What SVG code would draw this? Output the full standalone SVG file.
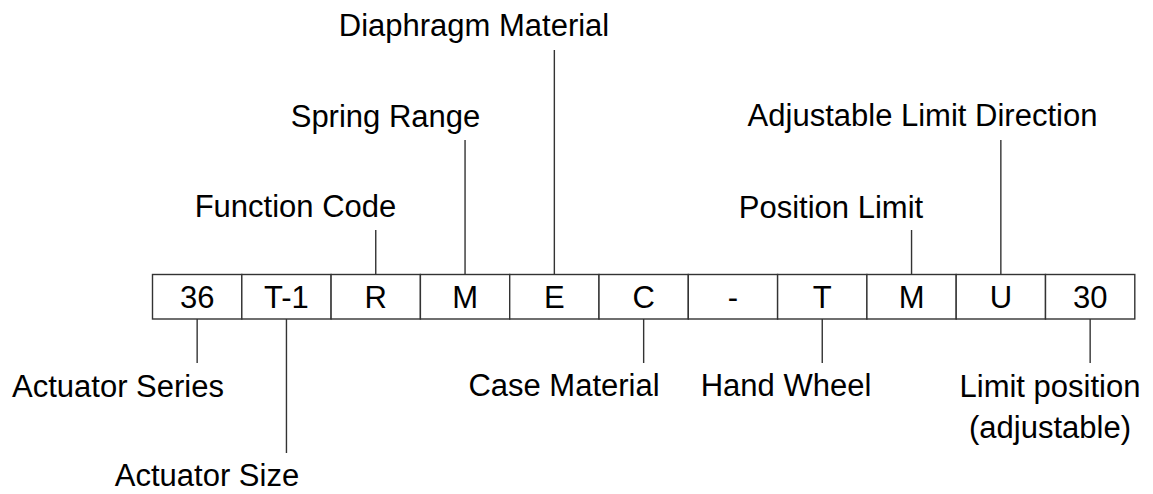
<svg xmlns="http://www.w3.org/2000/svg" width="1153" height="494" viewBox="0 0 1153 494">
<style>
.cell{fill:#fff;stroke:#333;stroke-width:1.4}
.lbl{font-family:"Liberation Sans",Arial,sans-serif;font-size:31px;fill:#000;text-anchor:middle}
.conn line{stroke:#333;stroke-width:1.4}
</style>
<rect width="1153" height="494" fill="#fff"/>
<g id="code">
<g id="c0"><rect class="cell" x="152.5" y="274.5" width="89.3" height="44.5"/><text class="lbl" x="197.15" y="308">36</text></g>
<g id="c1"><rect class="cell" x="241.8" y="274.5" width="89.3" height="44.5"/><text class="lbl" x="286.45" y="308">T-1</text></g>
<g id="c2"><rect class="cell" x="331.1" y="274.5" width="89.3" height="44.5"/><text class="lbl" x="375.75" y="308">R</text></g>
<g id="c3"><rect class="cell" x="420.4" y="274.5" width="89.3" height="44.5"/><text class="lbl" x="465.05" y="308">M</text></g>
<g id="c4"><rect class="cell" x="509.7" y="274.5" width="89.3" height="44.5"/><text class="lbl" x="554.35" y="308">E</text></g>
<g id="c5"><rect class="cell" x="599" y="274.5" width="89.3" height="44.5"/><text class="lbl" x="643.65" y="308">C</text></g>
<g id="c6"><rect class="cell" x="688.3" y="274.5" width="89.3" height="44.5"/><text class="lbl" x="732.95" y="308">-</text></g>
<g id="c7"><rect class="cell" x="777.6" y="274.5" width="89.3" height="44.5"/><text class="lbl" x="822.25" y="308">T</text></g>
<g id="c8"><rect class="cell" x="866.9" y="274.5" width="89.3" height="44.5"/><text class="lbl" x="911.55" y="308">M</text></g>
<g id="c9"><rect class="cell" x="956.2" y="274.5" width="89.3" height="44.5"/><text class="lbl" x="1000.85" y="308">U</text></g>
<g id="c10"><rect class="cell" x="1045.5" y="274.5" width="89.3" height="44.5"/><text class="lbl" x="1090.15" y="308">30</text></g>
</g>
<g id="connectors" class="conn">
<line x1="375.75" y1="230" x2="375.75" y2="274.5"/>
<line x1="465.05" y1="140" x2="465.05" y2="274.5"/>
<line x1="554.35" y1="50" x2="554.35" y2="274.5"/>
<line x1="911.55" y1="230" x2="911.55" y2="274.5"/>
<line x1="1000.85" y1="140" x2="1000.85" y2="274.5"/>
<line x1="197.15" y1="319" x2="197.15" y2="363"/>
<line x1="286.45" y1="319" x2="286.45" y2="453"/>
<line x1="643.65" y1="319" x2="643.65" y2="363"/>
<line x1="822.25" y1="319" x2="822.25" y2="363"/>
<line x1="1090.15" y1="319" x2="1090.15" y2="363"/>
</g>
<g id="l-diaphragm"><text class="lbl" x="474" y="36">Diaphragm Material</text></g>
<g id="l-spring"><text class="lbl" x="385.5" y="127">Spring Range</text></g>
<g id="l-function"><text class="lbl" x="295.5" y="217">Function Code</text></g>
<g id="l-adjdir"><text class="lbl" x="922.5" y="126">Adjustable Limit Direction</text></g>
<g id="l-poslimit"><text class="lbl" x="831" y="218">Position Limit</text></g>
<g id="l-series"><text class="lbl" x="118" y="397">Actuator Series</text></g>
<g id="l-size"><text class="lbl" x="207" y="486">Actuator Size</text></g>
<g id="l-case"><text class="lbl" x="564" y="396">Case Material</text></g>
<g id="l-hand"><text class="lbl" x="786" y="396">Hand Wheel</text></g>
<g id="l-limitpos"><text class="lbl" x="1050" y="397">Limit position</text><text class="lbl" x="1050" y="438">(adjustable)</text></g>
</svg>
